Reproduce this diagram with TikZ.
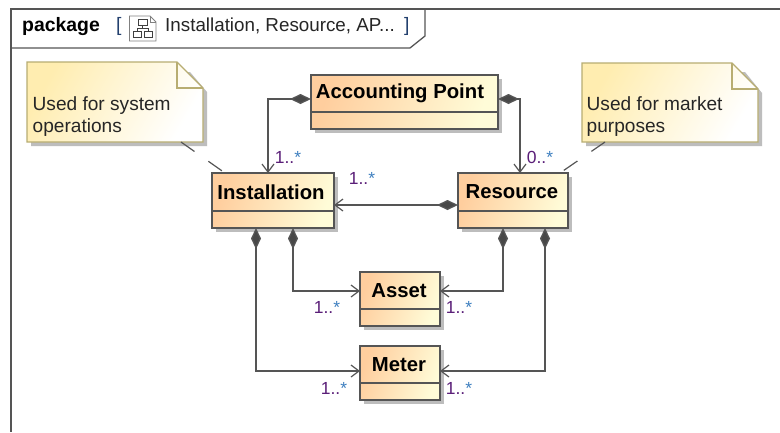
\documentclass[tikz,border=0pt]{standalone}
\usepackage{fontspec}
\setmainfont{Liberation Sans}
\usetikzlibrary{arrows.meta,shadings,calc}
\definecolor{lineC}{HTML}{555555}
\definecolor{boxL}{HTML}{FFCE9E}
\definecolor{boxR}{HTML}{FFFCD8}
\definecolor{noteL}{HTML}{FFEDB0}
\definecolor{noteR}{HTML}{FFFFFF}
\definecolor{noteB}{HTML}{B8AD72}
\definecolor{shadowC}{HTML}{BDBDBD}
\definecolor{multC}{HTML}{5A1E78}
\definecolor{starC}{HTML}{3F80C0}
\definecolor{brC}{HTML}{23406E}
\newcommand{\mlt}[1]{\textcolor{multC}{#1}\textcolor{starC}{*}}
\newcommand{\umlbox}[8]{% name, x1, y1, x2, sep, y2, text centre x, text
  \fill[shadowC] (#2+4,#3+4) rectangle (#4+4,#6+4);
  \node[boxshape, minimum width=#4-#2, minimum height=#6-#3] (#1) at ({(#2+#4)/2},{(#3+#6)/2}) {};
  \draw[line width=1.2pt, draw=lineC] (#1.west |- 0,#5) -- (#1.east |- 0,#5);
  \node[boxtext] (#1t) at ({#7},{(#3+#5)/2}) {#8};
}
\tikzset{
  x=1pt, y=-1pt,
  boxshape/.style={rectangle, inner sep=0pt, outer sep=0pt, draw=lineC, line width=1.4pt, left color=boxL, right color=boxR, shading angle=70},
  boxtext/.style={font=\fontsize{20.3}{22}\bfseries\selectfont, text=black, inner sep=0pt},
  notetext/.style={font=\fontsize{19.1}{21.5}\selectfont, text=black!85, inner sep=0pt, anchor=north west, align=left},
  multlabel/.style={font=\fontsize{17.5}{20}\selectfont, inner sep=0pt},
  comp/.style={draw=lineC, line width=1.3pt, {Diamond[length=21pt,width=10pt,fill=lineC!85!black]}-{Straight Barb[length=8pt,width=12pt,line width=1.2pt]}},
  noteline/.style={draw=lineC, line width=1.2pt, dash pattern=on 16.5pt off 17pt},
  notefill/.style={draw=noteB, line width=1.3pt, left color=noteL, right color=noteR, shading angle=60},
}
\begin{document}
\begin{tikzpicture}
\useasboundingbox (0,0) rectangle (780,432);
\fill[white] (0,0) rectangle (780,432);
% frame
\coordinate (fTL) at (11,9);
\coordinate (fTR) at (780,9);
\coordinate (fBL) at (11,432);
\draw[line width=1.3pt, draw=lineC] (fTR) -- (fTL) -- (fBL);
\draw[line width=1.3pt, draw=lineC] (425,9) -- (425,36) -- (410,48) -- (11,48);
\node[font=\fontsize{19.4}{22}\bfseries\selectfont, anchor=base west, inner sep=0pt] (pkg) at (22,31) {package};
\node[font=\fontsize{19.4}{22}\selectfont, text=brC, anchor=base west, inner sep=0pt] (lbr) at (116,31) {[};
\node[font=\fontsize{18.8}{22}\selectfont, text=black!85, anchor=base west, inner sep=0pt] (pkgname) at (165,31) {Installation, Resource, AP...};
\node[font=\fontsize{19.4}{22}\selectfont, text=brC, anchor=base west, inner sep=0pt] (rbr) at (404,31) {]};
% icon
\draw[draw=gray, fill=white, line width=0.8pt] (129.5,16) -- (150,16) -- (156,22) -- (156,41) -- (129.5,41) -- cycle;
\draw[draw=gray, line width=0.8pt] (150,16) -- (150,22) -- (156,22);
\draw[draw=black!75, line width=0.9pt] (138,19) rectangle (147,25)
  (133,31) rectangle (141,37) (144,31) rectangle (152,37)
  (142.5,25) -- (142.5,28) (137,31) -- (137,28) -- (148,28) -- (148,31);
% notes
\fill[shadowC] (31,72) -- (190,72) -- (207,92) -- (207,146) -- (31,146) -- cycle;
\path[notefill] (27,62) -- (177,62) -- (203,88) -- (203,142) -- (27,142) -- cycle;
\draw[draw=noteB, line width=1.3pt] (177,62) -- (177,88) -- (203,88);
\coordinate (noteA) at (181,142);
\node[notetext] (noteAt) at (32.5,96.5) {Used for system\\operations};
\fill[shadowC] (586,72) -- (745,72) -- (762,93) -- (762,146) -- (586,146) -- cycle;
\path[notefill] (582,63) -- (732,63) -- (758,89) -- (758,142) -- (582,142) -- cycle;
\draw[draw=noteB, line width=1.3pt] (732,63) -- (732,89) -- (758,89);
\coordinate (noteB) at (605,142);
\node[notetext] (noteBt) at (586.5,96.5) {Used for market\\purposes};
% classes
\umlbox{ap}{311}{75}{498}{112}{129}{400}{Accounting Point}
\umlbox{inst}{212}{173}{334}{211}{228}{271}{Installation}
\umlbox{res}{458}{173}{568}{211}{228}{512}{Resource}
\umlbox{asset}{360}{272}{440}{309}{326}{399}{Asset}
\umlbox{meter}{360}{346}{440}{383}{400}{399}{Meter}
% connectors
\draw[comp] (ap.west |- 0,99) -| (inst.north -| 268,0);
\draw[comp] (ap.east |- 0,99) -| (res.north -| 520,0);
\draw[comp] (res.west |- 0,205) -- (inst.east |- 0,205);
\draw[comp] (inst.south -| 293,0) |- (asset.west |- 0,291);
\draw[comp] (inst.south -| 256,0) |- (meter.west |- 0,371);
\draw[comp] (res.south -| 503,0) |- (asset.east |- 0,291);
\draw[comp] (res.south -| 545,0) |- (meter.east |- 0,371);
\draw[noteline] (noteA) -- (inst.north -| 225,0);
\draw[noteline] (noteB) -- (res.north -| 560,0);
% multiplicities
\node[multlabel] (m1) at (288,157) {\mlt{1..}};
\node[multlabel] (m2) at (362,178) {\mlt{1..}};
\node[multlabel] (m3) at (540,157) {\mlt{0..}};
\node[multlabel] (m4) at (327,307) {\mlt{1..}};
\node[multlabel] (m5) at (459,307) {\mlt{1..}};
\node[multlabel] (m6) at (334,388) {\mlt{1..}};
\node[multlabel] (m7) at (459,388) {\mlt{1..}};
\end{tikzpicture}
\end{document}
